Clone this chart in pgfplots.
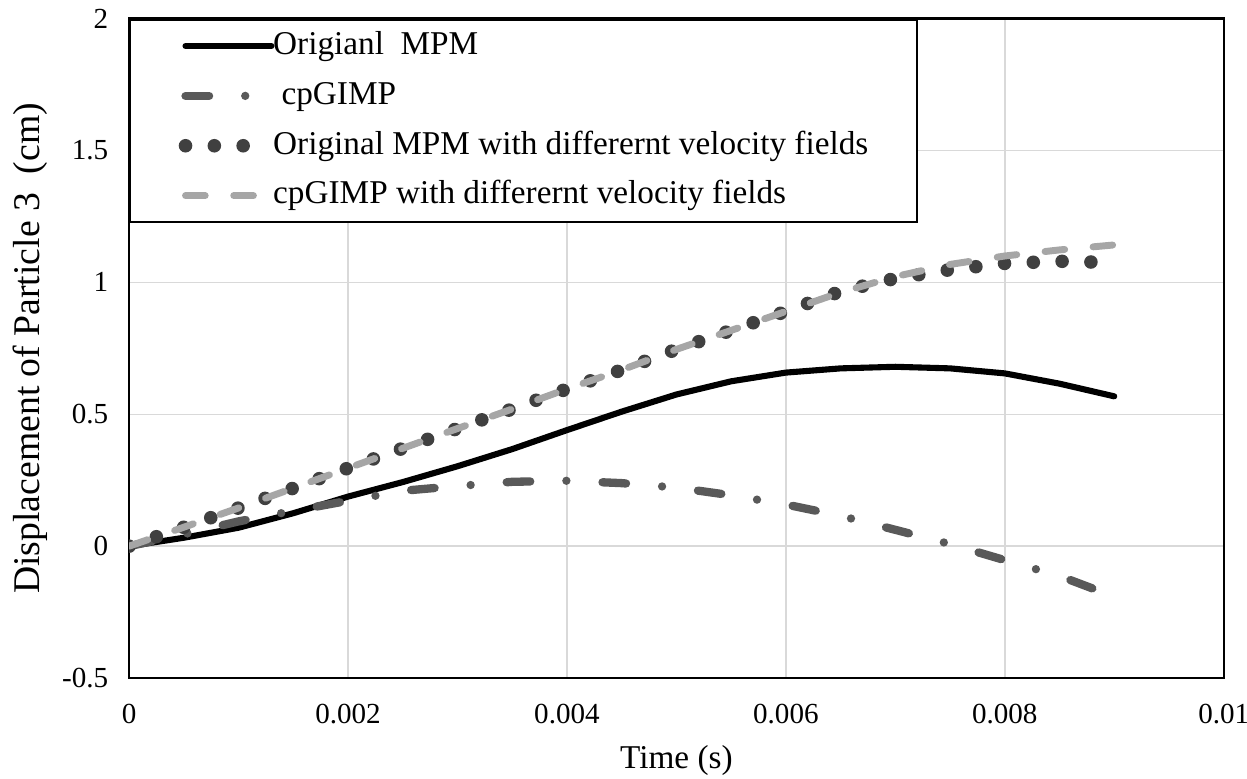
\documentclass[border=0pt]{standalone}
\usepackage{fontspec}
\setmainfont{Liberation Serif}
\usepackage{pgfplots}
\pgfplotsset{compat=1.18}

\definecolor{dashdot}{HTML}{595959}
\definecolor{dotcol}{HTML}{404040}
\definecolor{lightdash}{HTML}{A6A6A6}
\definecolor{gridcol}{HTML}{D9D9D9}

\begin{document}
\begin{tikzpicture}
\begin{axis}[
    at={(0,0)}, anchor=south west,
    scale only axis,
    width=395pt, height=238pt,
    xmin=0, xmax=0.01,
    ymin=-0.5, ymax=2,
    xtick={0,0.002,0.004,0.006,0.008,0.01},
    xticklabels={0,0.002,0.004,0.006,0.008,0.01},
    ytick={-0.5,0,0.5,1,1.5,2},
    yticklabels={-0.5,0,0.5,1,1.5,2},
    scaled x ticks=false,
    major tick length=0pt,
    grid=major,
    grid style={gridcol, line width=0.5pt},
    axis line style={black, line width=0.8pt},
    tick label style={font=\fontsize{10.5}{12}\selectfont},
    xticklabel style={yshift=-6pt},
    yticklabel style={xshift=-4pt},
    xlabel={Time (s)},
    ylabel={Displacement of Particle 3~~(cm)},
    xlabel style={font=\fontsize{12}{14}\selectfont,
        at={(axis description cs:0.5,-0.1243)}, anchor=center},
    ylabel style={font=\fontsize{13.6}{15}\selectfont,
        at={(axis description cs:-0.0903,0.5)}, anchor=center},
    legend cell align=left,
    legend image code/.code={\draw[#1] (0pt,0pt) -- (31pt,0pt);},
    legend style={at={(0,1)}, anchor=north west,
        draw=black, line width=0.8pt, fill=white,
        font=\fontsize{12}{14}\selectfont,
        inner xsep=17.5pt, inner ysep=1.5pt,
        row sep=2pt,
        nodes={inner xsep=0pt, inner ysep=2pt, text height=9pt, text depth=3pt},
        /tikz/every odd column/.append style={column sep=-1.8pt}},
]
% Origianl MPM
\addplot[black, line width=2.2pt, line cap=round] coordinates {
(0,0) (0.0005,0.032) (0.001,0.07) (0.0015,0.125) (0.002,0.188)
(0.0025,0.243) (0.003,0.303) (0.0035,0.368) (0.004,0.44) (0.0045,0.51)
(0.005,0.575) (0.0055,0.625) (0.006,0.658) (0.0065,0.674) (0.007,0.68)
(0.0075,0.674) (0.008,0.655) (0.0085,0.616) (0.009,0.568)
};
% cpGIMP
\addplot[dashdot, line width=3pt, line cap=round,
    dash pattern=on 8.5pt off 13.05pt on 0pt off 13.05pt] coordinates {
(0,0) (0.0005,0.045) (0.001,0.094) (0.0015,0.134) (0.002,0.172)
(0.0025,0.21) (0.003,0.228) (0.0035,0.244) (0.004,0.248) (0.0045,0.239)
(0.005,0.222) (0.0055,0.193) (0.006,0.158) (0.0065,0.115) (0.007,0.062)
(0.0075,0.008) (0.008,-0.053) (0.0085,-0.113) (0.0088,-0.16)
};
% Original MPM with different velocity fields
\addplot[dotcol, line width=4.9pt, line cap=round,
    dash pattern=on 0pt off 10.4pt] coordinates {
(0,0) (0.0005,0.072) (0.001,0.145) (0.0015,0.22) (0.002,0.296)
(0.0025,0.371) (0.003,0.446) (0.0035,0.52) (0.004,0.596) (0.0045,0.668)
(0.005,0.746) (0.0055,0.818) (0.006,0.89) (0.0065,0.966) (0.007,1.015)
(0.0075,1.048) (0.008,1.072) (0.0085,1.08) (0.0088,1.077)
};
% cpGIMP with different velocity fields
\addplot[lightdash, line width=2.5pt, line cap=round,
    dash pattern=on 7.1pt off 10.3pt] coordinates {
(0,0) (0.0005,0.072) (0.001,0.145) (0.0015,0.22) (0.002,0.296)
(0.0025,0.371) (0.003,0.446) (0.0035,0.52) (0.004,0.596) (0.0045,0.668)
(0.005,0.746) (0.0055,0.818) (0.006,0.89) (0.0065,0.962) (0.007,1.022)
(0.0075,1.068) (0.008,1.1) (0.0085,1.123) (0.009,1.142)
};
\legend{Origianl~~MPM, \ cpGIMP, Original MPM with differernt velocity fields, cpGIMP with differernt velocity fields}
\end{axis}
\pgfresetboundingbox
\path[use as bounding box] (-46.6pt,-36.4pt) rectangle (403.4pt,244.7pt);
\end{tikzpicture}
\end{document}
